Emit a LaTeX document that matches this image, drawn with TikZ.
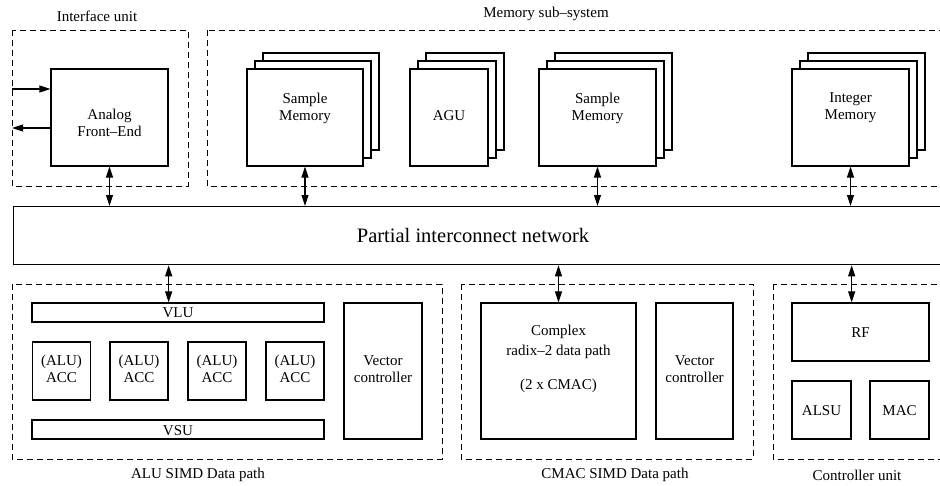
\documentclass[tikz,border=0pt]{standalone}
\usepackage{fontspec}
\setmainfont{Liberation Serif}
\usetikzlibrary{arrows.meta,shadows}
\begin{document}
\begin{tikzpicture}[x=1pt,y=-1pt,
  box/.style={draw,line width=1.3pt,fill=white,inner sep=0pt},
  stackbox/.style={box,double copy shadow={shadow xshift=8pt,shadow yshift=8pt}},
  grp/.style={draw,line width=0.8pt,dash pattern=on 6pt off 4pt},
  txt/.style={font=\fontsize{15}{17}\selectfont,align=center,inner sep=0pt},
  lbl/.style={font=\fontsize{15}{17}\selectfont,inner sep=0pt},
  tip/.tip={Triangle[length=11pt,width=7pt]},
  biarrow/.style={line width=1.1pt,tip-tip},
  arr/.style={line width=1.1pt,-tip}]
\useasboundingbox (0,0) rectangle (940,485);
\begin{scope}
\clip (0,0) rectangle (940,485);
% group boxes
\draw[grp] (12,30) rectangle (188,186);
\draw[grp] (207,30) rectangle (960,186);
\draw[grp] (12,284) rectangle (442,459);
\draw[grp] (461,284) rectangle (753,459);
\draw[grp] (773,284) rectangle (960,459);
\node[lbl] (lif) at (97,16) {Interface unit};
\node[lbl] (lms) at (546,14) {Memory sub--system};
\node[lbl] (lalu) at (198,475) {ALU SIMD Data path};
\node[lbl] (lcm) at (615,475) {CMAC SIMD Data path};
\node[lbl] (lcu) at (857,475) {Controller unit};
% interface
\node[box,minimum width=117,minimum height=97] (afe) at (109.5,117.5) {};
\node[txt] (afet) at (109.5,123) {Analog\\Front--End};
\coordinate (inL) at (12,89);
\coordinate (outL) at (12,128);
\draw[arr] (inL) -- (inL -| afe.west);
\draw[arr] (outL -| afe.west) -- (outL);
% memories
\node[stackbox,minimum width=116,minimum height=97] (sm1) at (305,117.5) {};
\node[txt] (sm1t) at (305,108) {Sample\\Memory};
\node[stackbox,minimum width=78,minimum height=97] (agu) at (449,117.5) {};
\node[txt] (agut) at (449,116) {AGU};
\node[stackbox,minimum width=117,minimum height=97] (sm2) at (597.5,117.5) {};
\node[txt] (sm2t) at (597.5,108) {Sample\\Memory};
\node[stackbox,minimum width=117,minimum height=97] (im) at (850.5,117.5) {};
\node[txt] (imt) at (850.5,108) {Integer\\Memory};
% interconnect
\node[box,minimum width=1000,minimum height=58,anchor=north west] (net) at (12.5,206) {};
\node[font=\fontsize{20.5}{22}\selectfont,inner sep=0pt] (nett) at (473,235) {Partial interconnect network};
% ALU SIMD
\node[box,minimum width=292,minimum height=19] (vlu) at (178,312.5) {};
\node[txt] (vlut) at (178,313) {VLU};
\node[box,minimum width=292,minimum height=19] (vsu) at (178,429.5) {};
\node[txt] (vsut) at (178,431) {VSU};
\node[box,minimum width=58,minimum height=58] (acc1) at (61.5,371) {};
\node[txt] (acct1) at (61.5,369) {(ALU)\\ACC};
\node[box,minimum width=58,minimum height=58] (acc2) at (139,371) {};
\node[txt] (acct2) at (139,369) {(ALU)\\ACC};
\node[box,minimum width=58,minimum height=58] (acc3) at (217,371) {};
\node[txt] (acct3) at (217,369) {(ALU)\\ACC};
\node[box,minimum width=58,minimum height=58] (acc4) at (295,371) {};
\node[txt] (acct4) at (295,369) {(ALU)\\ACC};
\node[box,minimum width=78,minimum height=136] (vc1) at (383,371) {};
\node[txt] (vc1t) at (383,369) {Vector\\controller};
% CMAC SIMD
\node[box,minimum width=155,minimum height=136] (cx) at (558.5,371) {};
\node[txt,font=\fontsize{15}{20}\selectfont] (cxt) at (558.5,359) {Complex\\radix--2 data path\\[14pt](2 x CMAC)};
\node[box,minimum width=77,minimum height=136] (vc2) at (694.5,371) {};
\node[txt] (vc2t) at (694.5,369) {Vector\\controller};
% Controller
\node[box,minimum width=137,minimum height=58] (rf) at (860.5,332) {};
\node[txt] (rft) at (860.5,333) {RF};
\node[box,minimum width=59,minimum height=58] (alsu) at (821.5,410) {};
\node[txt] (alsut) at (821.5,411) {ALSU};
\node[box,minimum width=59,minimum height=58] (mac) at (899.5,410) {};
\node[txt] (mact) at (899.5,411) {MAC};
% connectors
\draw[biarrow] (afe.south) -- (afe.south |- net.north);
\draw[biarrow] (sm1.south) -- (sm1.south |- net.north);
\draw[biarrow] (sm2.south) -- (sm2.south |- net.north);
\draw[biarrow] (im.south) -- (im.south |- net.north);
\draw[biarrow] (net.south -| acc2.east) -- (vlu.north -| acc2.east);
\draw[biarrow] (net.south -| cx.north) -- (cx.north);
\draw[biarrow] (net.south -| alsu.east) -- (rf.north -| alsu.east);
\end{scope}
\end{tikzpicture}
\end{document}
